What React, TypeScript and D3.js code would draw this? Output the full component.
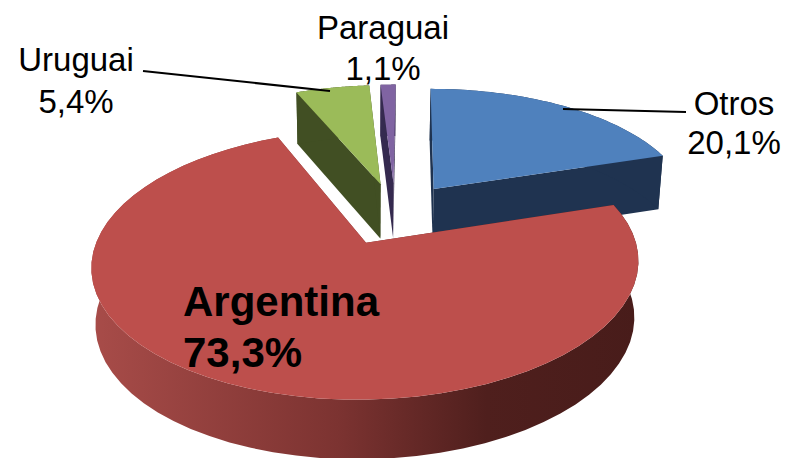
import React from "react";
import * as d3 from "d3";

const categories = ["Otros", "Argentina", "Uruguai", "Paraguai"];
const values = [20.1, 73.3, 5.4, 1.1];
const topColors = ["#4f81bd", "#bd4f4c", "#9bbb59", "#8064a2"];
const sideColors = ["#1f3350", "url(#redSide)", "#414f23", "#352a4f"];
const redStops = [
  [0, "#a84c49"],
  [0.45, "#7c3331"],
  [0.72, "#4f1f1d"],
  [1, "#481c1a"],
];

const W = 787;
const H = 458;
const anchorX = 366.5;
const anchorY = 243;
const A = 270;
const B = 131.8;
const C = 0.16;
const SHEAR = 7;
const DEPTH = 56;
const DEPTH_C = 0.06;
const EXPLODE = 0.255;
const originX = 0.104;
const originY = 0.233;

function project(X: number, Y: number, bottom: boolean): [number, number] {
  const w = 1 + C * Y;
  let x = (A * X + SHEAR * Y) / w;
  let y = (-B * Y) / w;
  if (bottom) {
    x *= 0.985;
    y += DEPTH / (1 + DEPTH_C * Y);
  }
  return [anchorX + x, anchorY + y];
}

const pieAngles = d3
  .pie<number>()
  .sort(null)
  .value((d) => d)(values);
const lineGen = d3.line();

function sliceGeometry(i: number) {
  const { startAngle, endAngle } = pieAngles[i];
  const mid = (startAngle + endAngle) / 2;
  const ax = originX + EXPLODE * Math.sin(mid);
  const ay = originY + EXPLODE * Math.cos(mid);
  const arc = d3.range(0, 61).map((k) => {
    const t = startAngle + ((endAngle - startAngle) * k) / 60;
    return [ax + Math.sin(t), ay + Math.cos(t)] as [number, number];
  });
  const proj = (pts: [number, number][], bottom: boolean) =>
    pts.map(([x, y]) => project(x, y, bottom));
  const top = lineGen([project(ax, ay, false), ...proj(arc, false)]) + "Z";
  const outer =
    lineGen([...proj(arc, false), ...proj(arc, true).reverse()]) + "Z";
  const face = (p: [number, number]) =>
    lineGen([
      project(ax, ay, false),
      project(p[0], p[1], false),
      project(p[0], p[1], true),
      project(ax, ay, true),
    ]) + "Z";
  return {
    top,
    outer,
    startFace: face(arc[0]),
    endFace: face(arc[arc.length - 1]),
  };
}

const fmt = (v: number) => d3.format(".1f")(v).replace(".", ",") + "%";
const drawOrder = [0, 2, 3, 1];

const labelPlacement = [
  { x: 734, y1: 115, y2: 154, size: 33, weight: 400, anchor: "middle" },
  { x: 183, y1: 316, y2: 367, size: 42, weight: 700, anchor: "start" },
  { x: 76, y1: 71, y2: 113, size: 33, weight: 400, anchor: "middle" },
  { x: 383, y1: 39, y2: 80, size: 33, weight: 400, anchor: "middle" },
];
const leaders = [
  [[563, 109], [686, 112]],
  [[143, 71], [330, 91]],
];

export default function App() {
  return (
    <svg
      width={W}
      height={H}
      viewBox={`0 0 ${W} ${H}`}
      style={{ position: "absolute", left: 0, top: 0, display: "block", background: "#fff" }}
    >
      <defs>
        <linearGradient id="redSide" gradientUnits="userSpaceOnUse" x1={91} x2={640} y1={0} y2={0}>
          {redStops.map(([o, c]) => (
            <stop key={String(o)} offset={o as number} stopColor={c as string} />
          ))}
        </linearGradient>
      </defs>
      {drawOrder.map((i) => {
        const g = sliceGeometry(i);
        return (
          <g key={categories[i]}>
            <path d={g.startFace} fill={sideColors[i]} />
            <path d={g.endFace} fill={sideColors[i]} />
            <path d={g.outer} fill={sideColors[i]} />
            <path d={g.top} fill={topColors[i]} />
          </g>
        );
      })}
      {leaders.map((l, i) => (
        <path key={i} d={lineGen(l as [number, number][]) ?? ""} stroke="#000" strokeWidth={2} fill="none" />
      ))}
      <g fontFamily="'Liberation Sans', Arial, sans-serif" fill="#000">
        {categories.map((c, i) => {
          const p = labelPlacement[i];
          return (
            <g key={c} fontSize={p.size} fontWeight={p.weight} textAnchor={p.anchor}>
              <text x={p.x} y={p.y1}>{c}</text>
              <text x={p.x} y={p.y2}>{fmt(values[i])}</text>
            </g>
          );
        })}
      </g>
    </svg>
  );
}
